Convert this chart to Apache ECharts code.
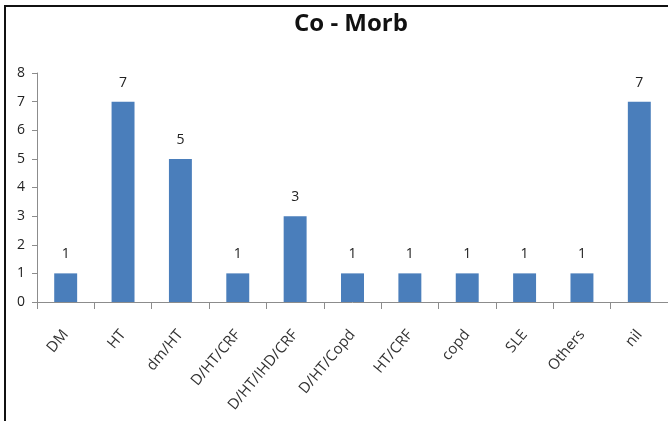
<!DOCTYPE html>
<html>
<head>
<meta charset="utf-8">
<script src="https://cdn.jsdelivr.net/npm/echarts@6/dist/echarts.min.js"></script>
<style>
  html, body { margin: 0; padding: 0; background: #fff; }
  #chart { width: 668px; height: 421px; position: relative; }
  #frame {
    position: absolute; left: 4px; top: 5px; right: 0; bottom: 0;
    border-top: 2px solid #111; border-left: 2px solid #111;
    pointer-events: none;
  }
</style>
</head>
<body>
<div id="chart"></div>
<div id="frame"></div>
<script>
// Co-morbidity counts
const categories = ['DM', 'HT', 'dm/HT', 'D/HT/CRF', 'D/HT/IHD/CRF', 'D/HT/Copd', 'HT/CRF', 'copd', 'SLE', 'Others', 'nil'];
const counts = [1, 7, 5, 1, 3, 1, 1, 1, 1, 1, 7];
const yTicks = [0, 1, 2, 3, 4, 5, 6, 7, 8];

const chart = echarts.init(document.getElementById('chart'), null, { renderer: 'canvas' });

chart.setOption({
  animation: false,
  backgroundColor: '#fff',
  title: {
    text: 'Co - Morb',
    left: 289,
    top: 7,
    textStyle: { fontFamily: 'Open Sans', fontWeight: 'bold', fontSize: 24, color: '#111' }
  },
  grid: { left: 37, right: 0, top: 73, bottom: 119, containLabel: false },
  xAxis: {
    type: 'category',
    data: categories,
    axisLine: { lineStyle: { color: '#8c8c8c', width: 1 } },
    axisTick: { show: true, alignWithLabel: false, length: 7, lineStyle: { color: '#8c8c8c' } },
    axisLabel: {
      interval: 0, rotate: 50, margin: 30,
      fontFamily: 'Open Sans', fontSize: 15, color: '#333'
    }
  },
  yAxis: {
    type: 'value',
    min: yTicks[0],
    max: yTicks[yTicks.length - 1],
    interval: 1,
    axisLine: { show: true, lineStyle: { color: '#8c8c8c', width: 1 } },
    axisTick: { show: true, length: 5, lineStyle: { color: '#8c8c8c' } },
    splitLine: { show: false },
    axisLabel: { margin: 12, fontFamily: 'Open Sans', fontSize: 14, color: '#222' }
  },
  series: [{
    type: 'bar',
    data: counts,
    barWidth: '40%',
    itemStyle: { color: '#4a7ebb', borderRadius: 0 },
    label: {
      show: true, position: 'top', distance: 12,
      fontFamily: 'Open Sans', fontSize: 14, color: '#222'
    }
  }]
});
</script>
</body>
</html>
